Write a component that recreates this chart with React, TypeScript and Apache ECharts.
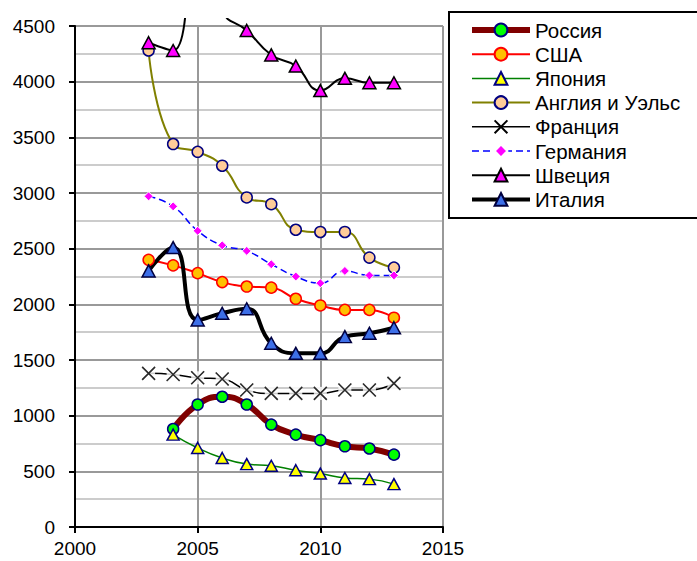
import React, { useEffect, useRef } from "react";
import * as echarts from "echarts";

const years = [2003, 2004, 2005, 2006, 2007, 2008, 2009, 2010, 2011, 2012, 2013];
const russia = [null, 880, 1100, 1170, 1100, 920, 830, 780, 725, 705, 650];
const usa = [2400, 2350, 2280, 2200, 2160, 2150, 2050, 1990, 1950, 1950, 1880];
const japan = [null, 830, 710, 620, 565, 550, 510, 480, 440, 430, 385];
const england = [4280, 3440, 3370, 3245, 2960, 2900, 2670, 2650, 2650, 2420, 2330];
const france = [1380, 1370, 1340, 1330, 1230, 1200, 1200, 1200, 1230, 1230, 1290];
const germany = [2970, 2880, 2660, 2530, 2480, 2360, 2250, 2190, 2300, 2260, 2260];
const sweden = [4350, 4280, 5600, 4640, 4460, 4240, 4140, 3920, 4030, 3990, 3990];
const italy = [2300, 2510, 1860, 1920, 1960, 1650, 1560, 1560, 1710, 1740, 1790];

const names = [
  "Россия",
  "США",
  "Япония",
  "Англия и Уэльс",
  "Франция",
  "Германия",
  "Швеция",
  "Италия",
];
const legendLineWidths = [6, 2, 1.5, 2, 1.5, 1.5, 2, 4];

const xTicks = { min: 2000, max: 2015, interval: 5 };
const yTicks = { min: 0, max: 4500, interval: 500 };

const pts = (vals: (number | null)[]) =>
  years.map((y, i) => [y, vals[i]]).filter((p) => p[1] !== null);

const FONT = "Liberation Sans, Arial, sans-serif";
const X_PATH = "path://M0,0 L10,10 M10,0 L0,10";

export default function App() {
  const ref = useRef<HTMLDivElement>(null);
  useEffect(() => {
    if (!ref.current) return;
    const chart = echarts.init(ref.current, null, { renderer: "svg" });
    const base = { type: "line", smooth: 0.5, animation: false };
    const plain = (v: number) => String(v);
    chart.setOption({
      animation: false,
      backgroundColor: "#fff",
      textStyle: { fontFamily: FONT },
      grid: { left: 75, right: 254, top: 26, bottom: 34 },
      xAxis: {
        type: "value",
        ...xTicks,
        axisLine: { lineStyle: { color: "#000", width: 2 } },
        axisTick: { show: true, length: 6, lineStyle: { color: "#000", width: 2 } },
        axisLabel: { color: "#000", fontSize: 19, fontFamily: FONT, margin: 12, formatter: plain },
        splitLine: { show: true, lineStyle: { color: "#999", width: 2 } },
      },
      yAxis: {
        type: "value",
        ...yTicks,
        axisLine: { show: true, lineStyle: { color: "#000", width: 2 } },
        axisTick: { show: true, length: 6, lineStyle: { color: "#000", width: 2 } },
        axisLabel: { color: "#000", fontSize: 19, fontFamily: FONT, margin: 20, formatter: plain },
        splitLine: { show: true, lineStyle: { color: "#999", width: 2 } },
        minorTick: { show: false, splitNumber: 2 },
        minorSplitLine: { show: true, lineStyle: { color: "#ccc", width: 2 } },
      },
      legend: {
        orient: "vertical",
        left: 449,
        top: 12,
        data: names.map((n, i) => ({ name: n, lineStyle: { width: legendLineWidths[i] } })),
        itemWidth: 58,
        itemHeight: 16,
        itemGap: 3.2,
        padding: [7.5, 20, 7.5, 20],
        borderWidth: 0,
        textStyle: { color: "#000", fontSize: 20.5, fontFamily: FONT, lineHeight: 16 },
      },
      graphic: [
        {
          type: "rect",
          z: 100,
          shape: { x: 60, y: 0, width: 385, height: 18 },
          style: { fill: "#fff" },
        },
        {
          type: "rect",
          z: 0,
          shape: { x: 449, y: 12, width: 280, height: 206 },
          style: { fill: "#fff", stroke: "#000", lineWidth: 2 },
        },
      ],
      series: [
        {
          ...base,
          name: "Россия",
          data: pts(russia),
          z: 3,
          lineStyle: { color: "#800000", width: 6 },
          symbol: "circle",
          symbolSize: 11,
          itemStyle: { color: "#00ff00", borderColor: "#000080", borderWidth: 1.5 },
        },
        {
          ...base,
          name: "США",
          data: pts(usa),
          lineStyle: { color: "#ff0000", width: 2 },
          symbol: "circle",
          symbolSize: 11,
          itemStyle: { color: "#ffc000", borderColor: "#ff0000", borderWidth: 1.5 },
        },
        {
          ...base,
          name: "Япония",
          data: pts(japan),
          lineStyle: { color: "#008000", width: 1.5 },
          symbol: "triangle",
          symbolSize: [12, 11],
          itemStyle: { color: "#ffff00", borderColor: "#000080", borderWidth: 1.5 },
        },
        {
          ...base,
          name: "Англия и Уэльс",
          data: pts(england),
          lineStyle: { color: "#808000", width: 2 },
          symbol: "circle",
          symbolSize: 11,
          itemStyle: { color: "#ffcc99", borderColor: "#000080", borderWidth: 1.5 },
        },
        {
          ...base,
          name: "Франция",
          data: pts(france),
          z: 2,
          lineStyle: { color: "#000", width: 1.5 },
          symbol: X_PATH,
          symbolSize: 12,
          itemStyle: { color: "#000", borderColor: "#000", borderWidth: 1.5 },
        },
        {
          type: "scatter",
          name: "_fr_bg",
          data: pts(france),
          z: 3,
          symbol: "rect",
          symbolSize: 13,
          itemStyle: { color: "#fff" },
          silent: true,
        },
        {
          type: "scatter",
          name: "_fr_x",
          data: pts(france),
          z: 4,
          symbol: X_PATH,
          symbolSize: 13,
          itemStyle: { color: "#000", borderColor: "#000", borderWidth: 1.5 },
          silent: true,
        },
        {
          ...base,
          name: "Германия",
          data: pts(germany),
          lineStyle: { color: "#0000ff", width: 1.5, type: [7, 4] },
          symbol: "diamond",
          symbolSize: 9,
          itemStyle: { color: "#ff00ff", borderColor: "#fff", borderWidth: 1 },
        },
        {
          ...base,
          name: "Швеция",
          data: pts(sweden),
          clip: false,
          lineStyle: { color: "#000", width: 2 },
          symbol: "triangle",
          symbolSize: [13, 12],
          itemStyle: { color: "#ff00ff", borderColor: "#000", borderWidth: 1.5 },
        },
        {
          ...base,
          name: "Италия",
          data: pts(italy),
          z: 3,
          lineStyle: { color: "#000", width: 4 },
          symbol: "triangle",
          symbolSize: [13, 12],
          itemStyle: { color: "#3d6fe8", borderColor: "#000040", borderWidth: 1.5 },
        },
      ],
    });
    return () => chart.dispose();
  }, []);
  return (
    <div
      ref={ref}
      style={{ position: "fixed", left: 0, top: 0, width: 697, height: 561 }}
    />
  );
}
